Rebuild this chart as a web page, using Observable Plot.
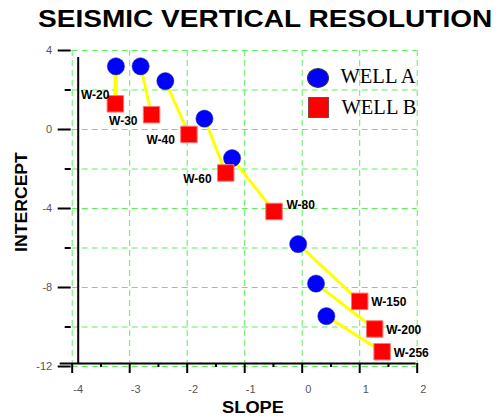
<!DOCTYPE html>
<html>
<head>
<meta charset="utf-8">
<script src="https://cdn.jsdelivr.net/npm/d3@7"></script>
<script src="https://cdn.jsdelivr.net/npm/@observablehq/plot@0.6"></script>
<style>
  html, body { margin: 0; padding: 0; background: #fff; }
  #wrap { position: relative; width: 500px; height: 420px; overflow: hidden; font-family: "Liberation Sans", Arial, sans-serif; }
  #chart { position: absolute; left: 0; top: 0; }
  .bold { position: absolute; font-weight: bold; color: #000; white-space: nowrap; }
  #title { left: 38px; top: 6.9px; font-size: 24px; line-height: 24px; transform-origin: 0 50%; transform: scaleX(1.168); }
  #xlabel { left: 153px; top: 399.7px; width: 200px; text-align: center; font-size: 16px; line-height: 16px; transform: scaleX(1.14); }
  #ylabel { left: -78.3px; top: 193.7px; width: 200px; text-align: center; font-size: 16px; line-height: 16px; transform: rotate(-90deg) scaleX(1.1); }
  .legtxt { position: absolute; font-family: "Liberation Serif", "Times New Roman", serif; font-size: 20.5px; line-height: 20.5px; color: #000; white-space: nowrap; }
  #legA { position: absolute; left: 307px; top: 68px; width: 20px; height: 18px; border-radius: 50%; background: #0000ff; border: 0.5px solid #334; }
  #legB { position: absolute; left: 307.5px; top: 96.5px; width: 19.5px; height: 19.5px; background: #ff0000; border: 1px solid #844; box-sizing: content-box; }
</style>
</head>
<body>
<div id="wrap">
  <div id="chart"></div>
  <div id="title" class="bold">SEISMIC VERTICAL RESOLUTION</div>
  <div id="xlabel" class="bold">SLOPE</div>
  <div id="ylabel" class="bold">INTERCEPT</div>
  <div id="legA"></div>
  <div id="legB"></div>
  <div class="legtxt" style="left:340.5px; top:65.9px;">WELL A</div>
  <div class="legtxt" style="left:341.5px; top:97.3px;">WELL B</div>
</div>
<script>
// ---- data ----
const wells = ["W-20", "W-30", "W-40", "W-60", "W-80", "W-150", "W-200", "W-256"];
const slopeA = [-3.24, -2.81, -2.38, -1.70, -1.22, -0.07, 0.24, 0.42];
const interceptA = [3.2, 3.2, 2.45, 0.55, -1.45, -5.8, -7.8, -9.45];
const slopeB = [-3.25, -2.62, -1.97, -1.33, -0.49, 1.0, 1.26, 1.39];
const interceptB = [1.3, 0.75, -0.25, -2.2, -4.15, -8.7, -10.1, -11.25];

const xMajor = [-4, -3, -2, -1, 0, 1, 2];
const xMinor = [-3.5, -2.5, -1.5, -0.5, 0.5, 1.5];
const yMajor = [4, 0, -4, -8, -12];
const yMinor = [2, -2, -6, -10];
const yGrid = [4, 2, 0, -2, -4, -6, -8, -10, -12];

const rows = wells.map((w, i) => ({
  well: w, i,
  xa: slopeA[i], ya: interceptA[i],
  xb: slopeB[i], yb: interceptB[i]
}));

const grid = {stroke: "#5cf05c", strokeOpacity: 1, strokeDasharray: "6,4", strokeWidth: 1};
const lbl = {x: "xb", y: "yb", text: "well", fontSize: 12, fontWeight: "bold", fill: "#000",
             fontFamily: "Liberation Sans, Arial, sans-serif"};
const plain = d => `${d}`;

const chart = Plot.plot({
  width: 500,
  height: 420,
  marginLeft: 71.7,
  marginRight: 83.3,
  marginTop: 50,
  marginBottom: 54,
  style: {background: "transparent", fontFamily: "Liberation Sans, Arial, sans-serif"},
  x: {domain: [xMajor[0], xMajor[xMajor.length - 1]]},
  y: {domain: [yMajor[yMajor.length - 1], yMajor[0]]},
  marks: [
    Plot.gridX(xMajor, {...grid, insetBottom: -3}),
    Plot.gridY(yGrid, grid),
    // y axis ticks + labels
    Plot.axisY(yMajor, {anchor: "left", tickSize: 13, tickPadding: 6, dx: -1, strokeWidth: 2,
                        stroke: "#000", fill: "#555", fontSize: 11, tickFormat: plain, label: null}),
    Plot.axisY(yMinor, {anchor: "left", tickSize: 6, dx: -1, strokeWidth: 2, stroke: "#000",
                        tickFormat: () => "", label: null}),
    // x axis ticks
    Plot.axisX(xMajor, {anchor: "bottom", tickSize: 10, dy: -3, strokeWidth: 2, stroke: "#000",
                        tickFormat: () => "", label: null}),
    Plot.axisX(xMinor, {anchor: "bottom", tickSize: 4, dy: -3, strokeWidth: 2, stroke: "#000",
                        tickFormat: () => "", label: null}),
    Plot.axisX(xMajor, {anchor: "bottom", tickSize: 0, tickPadding: 22, dx: 6, dy: -3,
                        fill: "#555", fontSize: 11, tickFormat: plain, label: null}),
    // axis lines
    Plot.ruleX([xMajor[0]], {dx: 6, insetTop: 7, insetBottom: 3, stroke: "#000", strokeWidth: 2}),
    Plot.ruleY([yMajor[yMajor.length - 1]], {dy: -3, insetLeft: -12, insetRight: 1, stroke: "#000", strokeWidth: 2}),
    // connectors
    Plot.link(rows.filter(d => d.i === 0), {x1: "xa", y1: "ya", x2: "xb", y2: "yb", stroke: "#ffff00", strokeWidth: 4.5}),
    Plot.link(rows.filter(d => d.i > 0), {x1: "xa", y1: "ya", x2: "xb", y2: "yb", stroke: "#ffff00", strokeWidth: 3}),
    // points
    Plot.dot(rows, {x: "xa", y: "ya", r: 8.6, fill: "#0000ff", stroke: "#2233aa", strokeWidth: 0.5}),
    Plot.dot(rows, {x: "xb", y: "yb", symbol: "square", r: 9.3, fill: "#ff0000", stroke: "#ff7777", strokeWidth: 1}),
    // labels
    Plot.text(rows.filter(d => d.i === 0), {...lbl, textAnchor: "end", dx: -6, dy: -9}),
    Plot.text(rows.filter(d => d.i >= 1 && d.i <= 3), {...lbl, textAnchor: "end", dx: -14, dy: 6}),
    Plot.text(rows.filter(d => d.i === 4), {...lbl, textAnchor: "start", dx: 12.5, dy: -6}),
    Plot.text(rows.filter(d => d.i >= 5), {...lbl, textAnchor: "start", dx: 11.5, dy: 1.2})
  ]
});
document.getElementById("chart").appendChild(chart);
</script>
</body>
</html>
